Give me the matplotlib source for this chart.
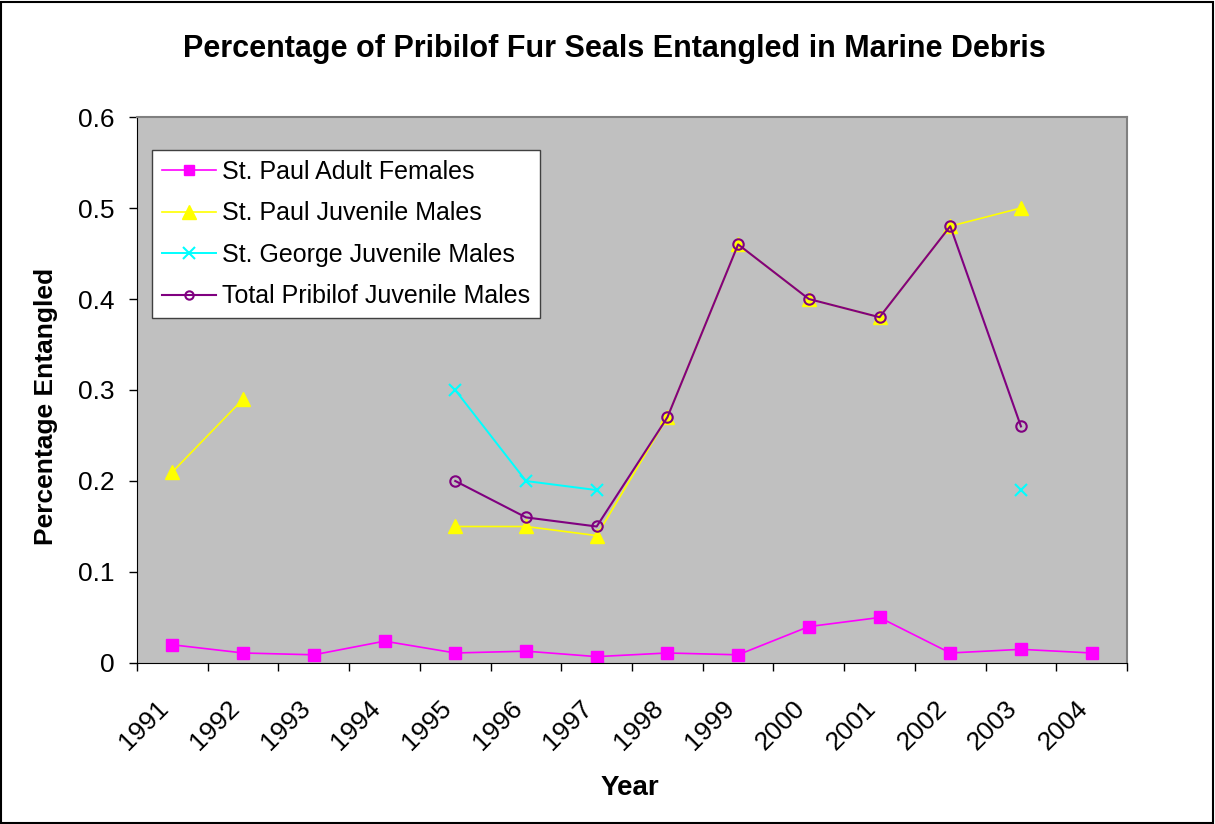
"""
Percentage of Pribilof fur seals entangled in marine debris, 1991-2004
"""

import numpy as np
import matplotlib
matplotlib.use("Agg")
import matplotlib.pyplot as plt
import matplotlib.transforms as mtransforms
from matplotlib.patches import Rectangle

plt.rcParams['font.family'] = ['Liberation Sans', 'DejaVu Sans']

years = ['1991', '1992', '1993', '1994', '1995', '1996', '1997',
         '1998', '1999', '2000', '2001', '2002', '2003', '2004']
nan = np.nan
stpaul_adult_f = [0.020, 0.011, 0.009, 0.024, 0.011, 0.013, 0.007,
                  0.011, 0.009, 0.040, 0.050, 0.011, 0.015, 0.011]
stpaul_juv_m = [0.21, 0.29, nan, nan, 0.15, 0.15, 0.14,
                0.27, 0.46, 0.40, 0.38, 0.48, 0.50, nan]
stgeorge_juv_m = [nan, nan, nan, nan, 0.30, 0.20, 0.19,
                  nan, nan, nan, nan, nan, 0.19, nan]
total_juv_m = [nan, nan, nan, nan, 0.20, 0.16, 0.15,
               0.27, 0.46, 0.40, 0.38, 0.48, 0.26, nan]


def make_chart():
    fig = plt.figure(figsize=(12.15, 8.24), dpi=100)
    ax = fig.add_axes([0.1128, 0.1954, 0.8148, 0.6626])
    ax.set_facecolor('#C0C0C0')

    x = np.arange(len(years))
    ax.plot(x, stpaul_adult_f, color='#FF00FF', lw=1.2, marker='s', ms=8,
            mec='#FF00FF', label='St. Paul Adult Females')
    ax.plot(x, stpaul_juv_m, color='#FFFF00', lw=1.2, marker='^', ms=10,
            mec='#FFFF00', label='St. Paul Juvenile Males')
    ax.plot(x, stgeorge_juv_m, color='#00FFFF', lw=1.4, marker='x', ms=9,
            mew=1.5, label='St. George Juvenile Males')
    ax.plot(x, total_juv_m, color='#800080', lw=1.5, marker='o', ms=7.5,
            mfc='none', mew=1.5, label='Total Pribilof Juvenile Males')

    ax.set_xlim(-0.5, len(years) - 0.5)
    ax.set_ylim(0, 0.6)
    ax.set_yticks(np.arange(0, 0.61, 0.1))
    ax.set_yticklabels(['0', '0.1', '0.2', '0.3', '0.4', '0.5', '0.6'], fontsize=19)
    ax.tick_params(axis='y', direction='out', length=6, width=1, pad=10)

    ax.set_xticks(x)
    ax.set_xticklabels(years, fontsize=19, rotation=45, ha='right',
                       va='top', rotation_mode='anchor')
    ax.tick_params(axis='x', which='major', length=0, pad=24)
    shift = mtransforms.ScaledTranslation(-16 / 100, 0, fig.dpi_scale_trans)
    for lbl in ax.get_xticklabels():
        lbl.set_transform(lbl.get_transform() + shift)
    ax.set_xticks(np.arange(-0.5, len(years), 1.0), minor=True)
    ax.tick_params(axis='x', which='minor', direction='out', length=6, width=1)

    ax.spines['left'].set_color('black')
    ax.spines['bottom'].set_color('black')
    ax.spines['top'].set_color('#808080')
    ax.spines['right'].set_color('#808080')
    ax.spines['top'].set_linewidth(1.5)
    ax.spines['right'].set_linewidth(1.5)

    ax.set_title('Percentage of Pribilof Fur Seals Entangled in Marine Debris',
                 fontsize=22, fontweight='bold', pad=43, x=0.482)
    ax.set_ylabel('Percentage Entangled', fontsize=19, fontweight='bold')
    ax.yaxis.set_label_coords(-0.0798, 0.4707)
    ax.set_xlabel('Year', fontsize=20, fontweight='bold')
    ax.xaxis.set_label_coords(0.498, -0.205)

    leg = ax.legend(loc='upper left', bbox_to_anchor=(0.0152, 0.9396), fontsize=18,
                    frameon=True, fancybox=False, facecolor='white',
                    edgecolor='#404040', framealpha=1, handlelength=2.15,
                    handletextpad=0.25, labelspacing=0.7, borderpad=0.4,
                    borderaxespad=0)
    leg.get_frame().set_linewidth(1)
    for h, s in zip(leg.legend_handles, [7, 10, 9, 6]):
        h.set_markersize(s)

    # outer figure border
    fig.patches.append(Rectangle((0.001, 0.001), 0.997, 0.997, transform=fig.transFigure,
                                 fill=False, edgecolor='black', lw=1.5))

    fig.savefig('out.png', dpi=100)


if __name__ == "__main__":
    make_chart()
